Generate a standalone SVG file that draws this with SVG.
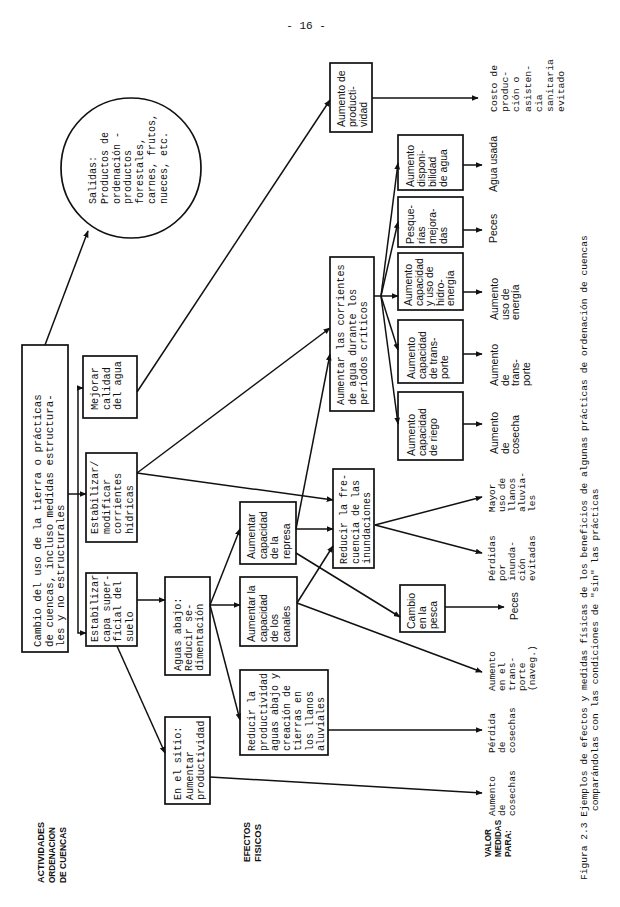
<svg xmlns="http://www.w3.org/2000/svg" width="620" height="907" viewBox="0 0 620 907">
<style>
.bg{fill:#fff}
.box{fill:none;stroke:#111;stroke-width:1.7}
.tw{font-family:"Liberation Mono",monospace;font-size:10.2px;fill:#111}
.sn{font-family:"Liberation Sans",sans-serif;font-size:10.5px;fill:#111}
.lo{font-family:"Liberation Mono",monospace;font-size:9.5px;fill:#111}
.lbl{font-family:"Liberation Sans",sans-serif;font-weight:bold;font-size:9px;fill:#111}
.ln{stroke:#111;stroke-width:1.5;fill:none;marker-end:url(#ah)}
.pl{stroke:#111;stroke-width:1.5;fill:none}
</style>
<defs>
<marker id="ah" viewBox="0 0 10 10" refX="9" refY="5" markerWidth="7" markerHeight="7" orient="auto" markerUnits="userSpaceOnUse"><path d="M0,1 L10,5 L0,9 z" fill="#111"/></marker>
</defs>
<rect class="bg" x="0" y="0" width="620" height="907"/>
<text x="306" y="29" text-anchor="middle" style="font-family:'Liberation Mono',monospace;font-size:11px;fill:#111">- 16 -</text>

<g id="lbl-actividades"><text class="lbl" transform="translate(44,883) rotate(-90)"><tspan x="0" y="0" textLength="61" lengthAdjust="spacingAndGlyphs">ACTIVIDADES</tspan><tspan x="0" y="11" textLength="56" lengthAdjust="spacingAndGlyphs">ORDENACION</tspan><tspan x="0" y="22" textLength="56" lengthAdjust="spacingAndGlyphs">DE CUENCAS</tspan></text></g>
<g id="lbl-efectos"><text class="lbl" transform="translate(250,862) rotate(-90)"><tspan x="0" y="0" textLength="40" lengthAdjust="spacingAndGlyphs">EFECTOS</tspan><tspan x="0" y="11" textLength="38" lengthAdjust="spacingAndGlyphs">FISICOS</tspan></text></g>
<g id="lbl-valor"><text class="lbl" transform="translate(491,857) rotate(-90)"><tspan x="0" y="0" textLength="28" lengthAdjust="spacingAndGlyphs">VALOR</tspan><tspan x="0" y="10" textLength="37" lengthAdjust="spacingAndGlyphs">MEDIDAS</tspan><tspan x="0" y="20" textLength="27" lengthAdjust="spacingAndGlyphs">PARA:</tspan></text></g>

<g id="connectors">
<path class="ln" d="M45,345 L88,231"/>
<path class="ln" d="M68,494 L86,494"/>
<path class="ln" d="M78,494 V388 H83"/>
<path class="ln" d="M78,494 V633 H86"/>
<path class="ln" d="M137,392 L330,100"/>
<path class="ln" d="M137,473 L330,328"/>
<path class="ln" d="M137,473 L333,500"/>
<path class="ln" d="M296,529 L330,354"/>
<path class="ln" d="M296,529 L333,529"/>
<path class="ln" d="M296,553 L400,617"/>
<path class="ln" d="M297,603 L333,546"/>
<path class="ln" d="M297,603 L482,672"/>
<path class="ln" d="M137,600 L165,600"/>
<path class="ln" d="M117,646 L165,753"/>
<path class="ln" d="M210,605 L240,605"/>
<path class="ln" d="M210,605 L240,529"/>
<path class="ln" d="M210,605 L240,720"/>
<path class="ln" d="M328,730 L482,730"/>
<path class="ln" d="M210,777 L482,793"/>
<path class="ln" d="M375,525 L482,497"/>
<path class="ln" d="M375,525 L482,553"/>
<path class="ln" d="M445,607 L504,607"/>
<path class="pl" d="M374,296 L381,296"/>
<path class="ln" d="M381,296 L398,163"/>
<path class="ln" d="M381,296 L398,222"/>
<path class="ln" d="M381,296 L398,296"/>
<path class="ln" d="M381,296 L398,350"/>
<path class="ln" d="M381,296 L398,424"/>
<path class="ln" d="M463,165 L482,165"/>
<path class="ln" d="M463,230 L482,230"/>
<path class="ln" d="M463,292 L482,292"/>
<path class="ln" d="M463,354 L482,354"/>
<path class="ln" d="M463,424 L482,424"/>
<path class="ln" d="M372,98 L478,98"/>
</g>

<g id="n-cambio"><rect class="box" x="22" y="345" width="46" height="307"/><text class="tw" style="font-size:10.8px" transform="translate(41,647) rotate(-90)"><tspan x="0" y="0">Cambio del uso de la tierra o prácticas</tspan><tspan x="0" y="11.5">de cuencas, incluso medidas estructura-</tspan><tspan x="0" y="23">les y no estructurales</tspan></text></g>

<g id="n-salidas"><circle class="box" cx="131" cy="168" r="70"/><text class="tw" style="font-size:10px" transform="translate(96,204) rotate(-90)"><tspan x="0" y="0">Salidas:</tspan><tspan x="0" y="11.8">Productos de</tspan><tspan x="0" y="23.6">ordenación -</tspan><tspan x="0" y="35.4">productos</tspan><tspan x="0" y="47.2">forestales,</tspan><tspan x="0" y="59">carnes, frutos,</tspan><tspan x="0" y="70.8">nueces, etc.</tspan></text></g>

<g id="n-mejorar"><rect class="box" x="83" y="356" width="54" height="62"/><text class="tw" transform="translate(98,410) rotate(-90)"><tspan x="0" y="0">Mejorar</tspan><tspan x="0" y="11.5">calidad</tspan><tspan x="0" y="23">del agua</tspan></text></g>

<g id="n-estab-mod"><rect class="box" x="86" y="453" width="51" height="89"/><text class="tw" transform="translate(98,534) rotate(-90)"><tspan x="0" y="0">Estabilizar/</tspan><tspan x="0" y="11.5">modificar</tspan><tspan x="0" y="23">corrientes</tspan><tspan x="0" y="34.5">hídricas</tspan></text></g>

<g id="n-estab-capa"><rect class="box" x="86" y="573" width="51" height="73"/><text class="tw" transform="translate(98,642) rotate(-90)"><tspan x="0" y="0">Estabilizar</tspan><tspan x="0" y="11.5">capa super-</tspan><tspan x="0" y="23">ficial del</tspan><tspan x="0" y="34.5">suelo</tspan></text></g>

<g id="n-aguas"><rect class="box" x="165" y="577" width="45" height="98"/><text class="tw" transform="translate(181,671) rotate(-90)"><tspan x="0" y="0">Aguas abajo:</tspan><tspan x="0" y="11">Reducir se-</tspan><tspan x="0" y="22">dimentación</tspan></text></g>

<g id="n-sitio"><rect class="box" x="165" y="717" width="45" height="87"/><text class="tw" transform="translate(181,800) rotate(-90)"><tspan x="0" y="0">En el sitio:</tspan><tspan x="0" y="11.5">Aumentar</tspan><tspan x="0" y="23">productividad</tspan></text></g>

<g id="n-reducir-prod"><rect class="box" x="240" y="670" width="88" height="85"/><text class="tw" style="font-size:10px" transform="translate(255,751) rotate(-90)"><tspan x="0" y="0">Reducir la</tspan><tspan x="0" y="11.5">productividad</tspan><tspan x="0" y="23">aguas abajo y</tspan><tspan x="0" y="34.5">creación de</tspan><tspan x="0" y="46">tierras en</tspan><tspan x="0" y="57.5">los llanos</tspan><tspan x="0" y="69">aluviales</tspan></text></g>

<g id="n-represa"><rect class="box" x="240" y="502" width="56" height="62"/><text class="sn" transform="translate(255,559) rotate(-90)"><tspan x="0" y="0">Aumentar</tspan><tspan x="0" y="11.5">capacidad</tspan><tspan x="0" y="23">de la</tspan><tspan x="0" y="34.5">represa</tspan></text></g>

<g id="n-canales"><rect class="box" x="240" y="577" width="57" height="69"/><text class="sn" transform="translate(255,642) rotate(-90)"><tspan x="0" y="0">Aumentar la</tspan><tspan x="0" y="11.5">capacidad</tspan><tspan x="0" y="23">de los</tspan><tspan x="0" y="34.5">canales</tspan></text></g>

<g id="n-reducir-frec"><rect class="box" x="333" y="469" width="41" height="99"/><text class="tw" style="font-size:10px" transform="translate(347,564) rotate(-90)"><tspan x="0" y="0">Reducir la fre-</tspan><tspan x="0" y="11.5">cuencia de las</tspan><tspan x="0" y="23">inundaciones</tspan></text></g>

<g id="n-corrientes"><rect class="box" x="330" y="257" width="44" height="154"/><text class="tw" transform="translate(344,405) rotate(-90)"><tspan x="0" y="0">Aumentar las corrientes</tspan><tspan x="0" y="11.5">de agua durante los</tspan><tspan x="0" y="23">períodos críticos</tspan></text></g>

<g id="n-pesca"><rect class="box" x="400" y="585" width="45" height="47"/><text class="sn" transform="translate(415,629) rotate(-90)"><tspan x="0" y="0">Cambio</tspan><tspan x="0" y="11">en la</tspan><tspan x="0" y="22">pesca</tspan></text></g>

<g id="n-productividad"><rect class="box" x="330" y="63" width="42" height="69"/><text class="sn" transform="translate(345,127) rotate(-90)"><tspan x="0" y="0">Aumento de</tspan><tspan x="0" y="11">producti-</tspan><tspan x="0" y="22">vidad</tspan></text></g>

<g id="n-disponibilidad"><rect class="box" x="398" y="135" width="65" height="55"/><text class="sn" transform="translate(414,187) rotate(-90)"><tspan x="0" y="0">Aumento</tspan><tspan x="0" y="11">disponi-</tspan><tspan x="0" y="22">bilidad</tspan><tspan x="0" y="33">de agua</tspan></text></g>

<g id="n-pesquerias"><rect class="box" x="398" y="197" width="65" height="50"/><text class="sn" transform="translate(414,244) rotate(-90)"><tspan x="0" y="0">Pesque-</tspan><tspan x="0" y="11">rías</tspan><tspan x="0" y="22">mejora-</tspan><tspan x="0" y="33">das</tspan></text></g>

<g id="n-hidro"><rect class="box" x="398" y="253" width="65" height="57"/><text class="sn" transform="translate(412,306) rotate(-90)"><tspan x="0" y="0">Aumento</tspan><tspan x="0" y="10.5">capacidad</tspan><tspan x="0" y="21">y uso de</tspan><tspan x="0" y="31.5">hidro-</tspan><tspan x="0" y="42">energía</tspan></text></g>

<g id="n-transporte"><rect class="box" x="398" y="320" width="65" height="63"/><text class="sn" transform="translate(415,379) rotate(-90)"><tspan x="0" y="0">Aumento</tspan><tspan x="0" y="11">capacidad</tspan><tspan x="0" y="22">de trans-</tspan><tspan x="0" y="33">porte</tspan></text></g>

<g id="n-riego"><rect class="box" x="398" y="392" width="65" height="68"/><text class="sn" transform="translate(415,456) rotate(-90)"><tspan x="0" y="0">Aumento</tspan><tspan x="0" y="11">capacidad</tspan><tspan x="0" y="22">de riego</tspan></text></g>

<g id="o-costo"><text class="tw" style="font-size:9.8px" transform="translate(497,112) rotate(-90)"><tspan x="0" y="0">Costo de</tspan><tspan x="0" y="11.2">produc-</tspan><tspan x="0" y="22.4">ción o</tspan><tspan x="0" y="33.6">asisten-</tspan><tspan x="0" y="44.8">cia</tspan><tspan x="0" y="56">sanitaria</tspan><tspan x="0" y="67.2">evitado</tspan></text></g>
<g id="o-agua"><text class="sn" transform="translate(497,192) rotate(-90)">Agua usada</text></g>
<g id="o-peces1"><text class="sn" transform="translate(497,243) rotate(-90)">Peces</text></g>
<g id="o-energia"><text class="sn" transform="translate(498,320) rotate(-90)"><tspan x="0" y="0">Aumento</tspan><tspan x="0" y="10.5">uso de</tspan><tspan x="0" y="21">energía</tspan></text></g>
<g id="o-transporte"><text class="sn" transform="translate(498,386) rotate(-90)"><tspan x="0" y="0">Aumento</tspan><tspan x="0" y="10.5">de</tspan><tspan x="0" y="21">trans-</tspan><tspan x="0" y="31.5">porte</tspan></text></g>
<g id="o-cosecha"><text class="sn" transform="translate(498,454) rotate(-90)"><tspan x="0" y="0">Aumento</tspan><tspan x="0" y="10.5">de</tspan><tspan x="0" y="21">cosecha</tspan></text></g>
<g id="o-mayor"><text class="lo" transform="translate(495,512) rotate(-90)"><tspan x="0" y="0">Mayor</tspan><tspan x="0" y="10">uso de</tspan><tspan x="0" y="20">llanos</tspan><tspan x="0" y="30">aluvia-</tspan><tspan x="0" y="40">les</tspan></text></g>
<g id="o-perdidas"><text class="lo" transform="translate(495,581) rotate(-90)"><tspan x="0" y="0">Pérdidas</tspan><tspan x="0" y="10">por</tspan><tspan x="0" y="20">inunda-</tspan><tspan x="0" y="30">ción</tspan><tspan x="0" y="40">evitadas</tspan></text></g>
<g id="o-peces2"><text class="sn" style="font-size:10px" transform="translate(518,620) rotate(-90)">Peces</text></g>
<g id="o-naveg"><text class="lo" transform="translate(495,691) rotate(-90)"><tspan x="0" y="0">Aumento</tspan><tspan x="0" y="10">en el</tspan><tspan x="0" y="20">trans-</tspan><tspan x="0" y="30">porte</tspan><tspan x="0" y="40">(naveg.)</tspan></text></g>
<g id="o-perdida-cos"><text class="lo" transform="translate(495,753) rotate(-90)"><tspan x="0" y="0">Pérdida</tspan><tspan x="0" y="10">de</tspan><tspan x="0" y="20">cosechas</tspan></text></g>
<g id="o-aumento-cos"><text class="lo" transform="translate(495,816) rotate(-90)"><tspan x="0" y="0">Aumento</tspan><tspan x="0" y="10">de</tspan><tspan x="0" y="20">cosechas</tspan></text></g>

<g id="caption"><text class="tw" style="font-size:9.6px" transform="translate(587,880) rotate(-90)"><tspan x="0" y="0">Figura 2.3  Ejemplos de efectos y medidas físicas de los beneficios de algunas prácticas de ordenación de cuencas</tspan><tspan x="69" y="11">comparándolas con las condiciones de "sin" las prácticas</tspan></text></g>
</svg>
